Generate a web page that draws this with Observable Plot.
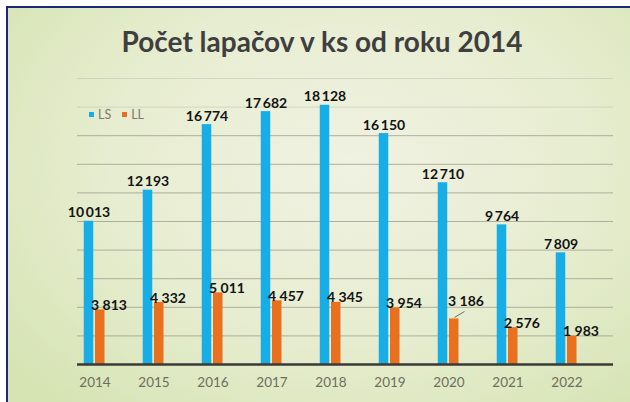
<!DOCTYPE html>
<html><head><meta charset="utf-8">
<script src="https://cdn.jsdelivr.net/npm/d3@7"></script>
<script src="https://cdn.jsdelivr.net/npm/@observablehq/plot@0.6"></script>
<style>
html,body{margin:0;padding:0;background:#fff;}
#wrap{position:relative;width:630px;height:402px;overflow:hidden;background:#fff;}
#panel{position:absolute;left:6px;top:6px;width:624px;height:396px;box-sizing:border-box;
 border-left:2px solid #1b2a78;border-top:2px solid #1b2a78;
 background:radial-gradient(ellipse 70% 80% at 55% 40%, #f0f2e2 0%, #e7edd0 55%, #d6e4b4 100%);}
#title{position:absolute;left:0;width:644px;top:24px;text-align:center;font-family:Lato,sans-serif;font-weight:bold;font-size:28px;color:#3f3f3f;}
#legend{position:absolute;left:89px;top:107px;font-family:Lato,sans-serif;font-size:12.5px;color:#7a7a72;display:flex;align-items:center;gap:4px;}
#legend .sw{display:inline-block;width:5px;height:5px;}
#chart{position:absolute;left:0;top:0;}
</style></head>
<body>
<div id="wrap">
 <div id="panel"></div>
 <div id="title">Počet lapačov v ks od roku 2014</div>
 <div id="chart"></div>
 <div id="legend"></div>
</div>
<script>
const years = [2014, 2015, 2016, 2017, 2018, 2019, 2020, 2021, 2022];
const ls = [10013, 12193, 16774, 17682, 18128, 16150, 12710, 9764, 7809];
const ll = [3813, 4332, 5011, 4457, 4345, 3954, 3186, 2576, 1983];
const gridTicks = [0, 2000, 4000, 6000, 8000, 10000, 12000, 14000, 16000, 18000, 20000];
const seriesNames = ["LS", "LL"];
const colors = ["#17ade6", "#e9701f"];

const data = years.map((y, i) => ({year: y, ls: ls[i], ll: ll[i]}));
const fmt = v => d3.format(",")(v).replace(/,/g, " ");
const lsFmt = v => d3.format(",")(v).replace(/,/g, "\u2009");

const leg = document.getElementById("legend");
seriesNames.forEach((n, i) => {
  const sw = document.createElement("span"); sw.className = "sw"; sw.style.background = colors[i];
  const t = document.createElement("span"); t.textContent = n; t.style.marginRight = "7px";
  leg.appendChild(sw); leg.appendChild(t);
});

const labelStyle = {fontWeight: "bold", fontSize: 14, fill: "#141414", lineAnchor: "bottom", fontFamily: "Lato"};
const chart = Plot.plot({
  width: 630, height: 402,
  marginLeft: 62, marginRight: 32, marginTop: 78, marginBottom: 38,
  style: {background: "transparent", fontFamily: "Lato", fontSize: "13.5px", color: "#6e6e60"},
  x: {type: "band", domain: years, padding: 0, tickSize: 0, tickPadding: 13, label: null, tickFormat: d => String(d)},
  y: {domain: [0, 20000], axis: null},
  marks: [
    Plot.ruleY(gridTicks.filter(t => t > 0 && t <= 16000), {stroke: "#a3a394", strokeWidth: 1, strokeOpacity: 0.85, insetLeft: 15, insetRight: -15}),
    Plot.ruleY(gridTicks.filter(t => t > 16000), {stroke: "#b8b8aa", strokeWidth: 1, strokeOpacity: 0.45, insetLeft: 15, insetRight: -15}),
    Plot.barY(data, {x: "year", y: "ls", fill: colors[0], insetLeft: 18.75, insetRight: 30.75}),
    Plot.barY(data, {x: "year", y: "ll", fill: colors[1], insetLeft: 30, insetRight: 19.5}),
    Plot.ruleY([0], {stroke: "#3a3a36", strokeWidth: 2.5, insetLeft: 15, insetRight: -15}),
    Plot.text(data, {x: "year", y: "ls", text: d => lsFmt(d.ls), dx: -6, dy: -4, ...labelStyle}),
    Plot.text(data.filter(d => d.year !== 2020), {x: "year", y: "ll", text: d => fmt(d.ll), dx: 14, dy: 0, ...labelStyle}),
    Plot.text(data.filter(d => d.year === 2020), {x: "year", y: "ll", text: d => fmt(d.ll), dx: 17, dy: -13, ...labelStyle})
  ]
});
document.getElementById("chart").appendChild(chart);

// leader line for 2020 LL label, positioned via the plot's scales
const sx = chart.scale("x"), sy = chart.scale("y");
const d20 = data.find(d => d.year === 2020);
const xc = sx.apply(d20.year) + sx.bandwidth / 2;
const yt = sy.apply(d20.ll);
d3.select(chart).append("line")
  .attr("x1", xc + 6).attr("y1", yt - 1)
  .attr("x2", xc + 16).attr("y2", yt - 7)
  .attr("stroke", "#6a6a6a").attr("stroke-width", 1);
</script>
</body></html>
